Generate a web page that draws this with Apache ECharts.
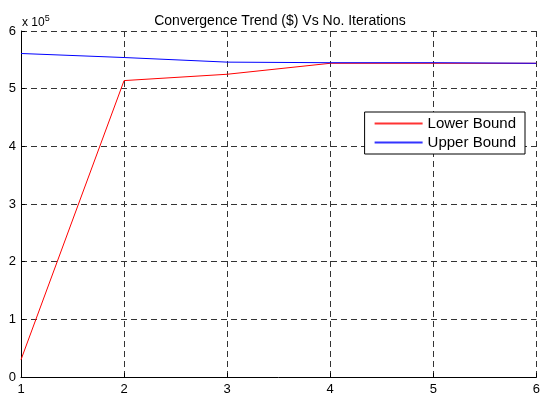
<!DOCTYPE html>
<html><head><meta charset="utf-8">
<script src="https://cdn.jsdelivr.net/npm/echarts@6/dist/echarts.min.js"></script>
<style>html,body{margin:0;padding:0;background:#fff}#c{width:543px;height:396px}</style>
</head><body><div id="c"></div>
<script>
const iterations = [1, 2, 3, 4, 5, 6];
const lowerBound = [30000, 514000, 525000, 544000, 544000, 544000];
const upperBound = [561000, 554000, 546000, 545000, 545000, 544000];
const yTicks = [0, 1, 2, 3, 4, 5, 6];

const chart = echarts.init(document.getElementById('c'));
const font = 'Liberation Sans, Arial, sans-serif';
const gridLine = {show: true, lineStyle: {color: '#333', type: [6, 4], width: 1}};
chart.setOption({
  animation: false,
  title: {text: 'Convergence Trend ($) Vs No. Iterations', left: 275, top: 9, textAlign: 'center',
    textStyle: {fontFamily: font, fontSize: 14, fontWeight: 'normal', color: '#000'}},
  grid: {left: 21, right: 3, top: 31, bottom: 16},
  legend: {
    right: 18, top: 112, orient: 'vertical', itemWidth: 48, itemHeight: 2, itemGap: 4,
    backgroundColor: '#fff', borderColor: '#000', borderWidth: 1, padding: [4, 9, 4, 10],
    textStyle: {fontFamily: font, fontSize: 15, color: '#000'},
    data: [
      {name: 'Lower Bound', icon: 'rect', itemStyle: {color: '#ff3333'}},
      {name: 'Upper Bound', icon: 'rect', itemStyle: {color: '#3333ff'}}
    ]
  },
  xAxis: {
    type: 'value', min: 1, max: 6, interval: 1,
    axisLine: {show: true, lineStyle: {color: '#000'}},
    axisTick: {show: true, inside: true, length: 4, lineStyle: {color: '#000'}},
    axisLabel: {fontFamily: font, fontSize: 13, color: '#000', margin: 6},
    splitLine: gridLine
  },
  yAxis: {
    type: 'value', min: 0, max: 600000, interval: 100000,
    name: '{a|x 10}{b|5}', nameLocation: 'end', nameGap: 0,
    nameTextStyle: {align: 'left', verticalAlign: 'bottom', padding: [0, 0, 0, 1],
      rich: {a: {fontFamily: font, fontSize: 12, color: '#000'},
             b: {fontFamily: font, fontSize: 9, color: '#000', verticalAlign: 'top', padding: [0, 0, 8, 0]}}},
    axisLine: {show: true, lineStyle: {color: '#000'}},
    axisTick: {show: true, inside: true, length: 4, lineStyle: {color: '#000'}},
    axisLabel: {fontFamily: font, fontSize: 13, color: '#000', margin: 5,
      formatter: v => String(yTicks[Math.round(v / 100000)])},
    splitLine: gridLine
  },
  series: [
    {name: 'Lower Bound', type: 'line', symbol: 'none', color: '#ff0000',
     lineStyle: {width: 1, color: '#ff0000'}, data: iterations.map((x, i) => [x, lowerBound[i]])},
    {name: 'Upper Bound', type: 'line', symbol: 'none', color: '#0000ff',
     lineStyle: {width: 1, color: '#0000ff'}, data: iterations.map((x, i) => [x, upperBound[i]])}
  ]
});
</script></body></html>
